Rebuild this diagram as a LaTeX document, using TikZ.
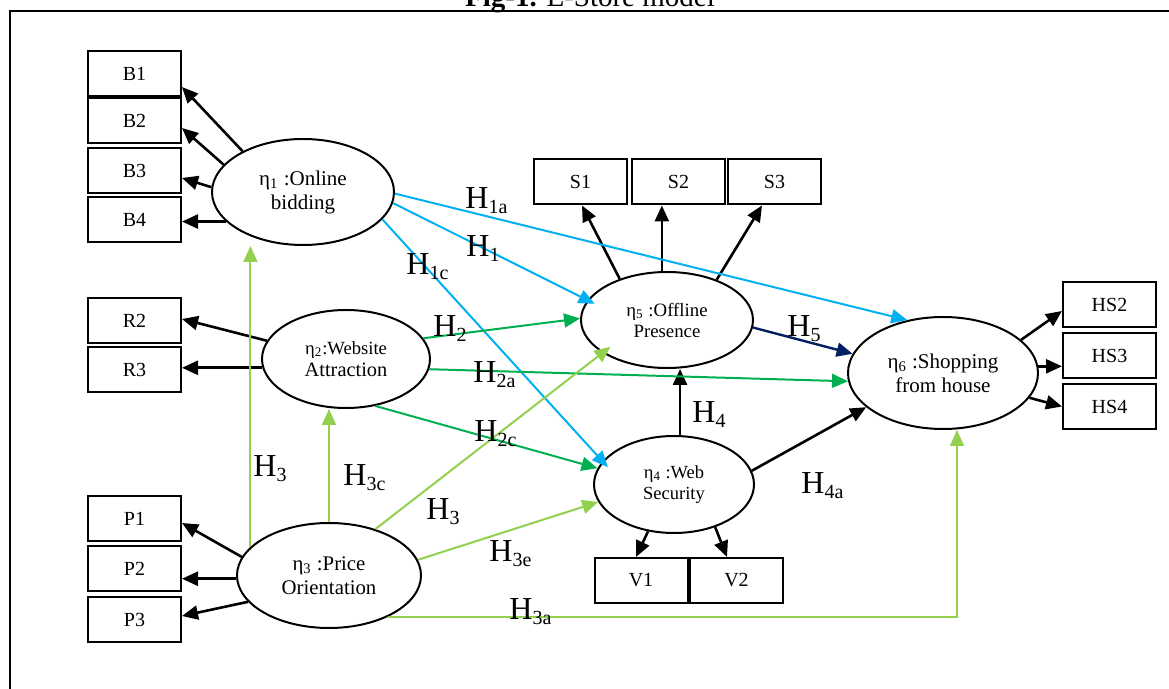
\documentclass[tikz,border=0pt]{standalone}
\usepackage{fontspec}
\setmainfont{Liberation Serif}
\usetikzlibrary{shapes.geometric,arrows.meta,calc}
\definecolor{cblue}{HTML}{00B0F0}
\definecolor{cgreen}{HTML}{00B050}
\definecolor{clgreen}{HTML}{92D050}
\definecolor{cnavy}{HTML}{002060}
\newcommand{\hyp}[1]{H\raisebox{-2.3pt}{\fontsize{10}{10}\selectfont #1}}
\newcommand{\etx}[1]{η\textsubscript{#1}}
\begin{document}
\begin{tikzpicture}[x=0.5pt,y=-0.5pt,
  box/.style={draw, line width=1pt, minimum width=46.5pt, minimum height=22.5pt, inner sep=0pt, font=\fontsize{10}{12}\selectfont},
  lat/.style={draw, ellipse, line width=1pt, inner sep=0pt, align=center},
  arr/.style={-{Triangle[length=8pt,width=7pt]}, line width=1.3pt, draw=black},
  blu/.style={arr, draw=cblue, line width=1pt},
  grn/.style={arr, draw=cgreen, line width=1pt},
  lgr/.style={arr, draw=clgreen, line width=1pt},
  nav/.style={arr, draw=cnavy, line width=1.2pt},
  hl/.style={inner sep=0pt, anchor=base west, font=\fontsize{16}{16}\selectfont}
]
\useasboundingbox (0,0) rectangle (1169,689);
% frame and title
\coordinate (fa) at (10,700);
\coordinate (fb) at (10,11);
\coordinate (fc) at (1180,11);
\draw[line width=1pt] (fa) -- (fb) -- (fc);
\node[anchor=base, inner sep=0pt, font=\fontsize{14.5}{16}\selectfont] (title) at (590,7) {\textbf{Fig-1.} E-Store model};

% indicator boxes
\node[box] (B1) at (134.5,74) {B1};
\node[box] (B2) at (134.5,120.5) {B2};
\node[box] (B3) at (134.5,170.5) {B3};
\node[box] (B4) at (134.5,219.5) {B4};
\node[box] (R2) at (134.5,321) {R2};
\node[box] (R3) at (134.5,369.5) {R3};
\node[box] (P1) at (134.5,518.5) {P1};
\node[box] (P2) at (134.5,569) {P2};
\node[box] (P3) at (134.5,620) {P3};
\node[box] (S1) at (580.5,182) {S1};
\node[box] (S2) at (678.5,182) {S2};
\node[box] (S3) at (774.5,182) {S3};
\node[box] (V1) at (641,580.5) {V1};
\node[box] (V2) at (736.5,580.5) {V2};
\node[box] (HS2) at (1109.5,304.5) {HS2};
\node[box] (HS3) at (1109.5,355.5) {HS3};
\node[box] (HS4) at (1109.5,406.5) {HS4};

% latent ellipses
\node[lat, minimum width=91pt, minimum height=53pt, font=\fontsize{10.5}{12}\selectfont] (e1) at (303,192) {\etx{1} :Online\\bidding};
\node[lat, minimum width=84pt, minimum height=49pt, font=\fontsize{10.2}{11}\selectfont] (e2) at (346,359) {{\fontsize{9.3}{10}\selectfont \etx{2}:Website}\\Attraction};
\node[lat, minimum width=92pt, minimum height=52.5pt, font=\fontsize{10.4}{12}\selectfont] (e3) at (329,575.5) {\etx{3} :Price\\Orientation};
\node[lat, minimum width=80pt, minimum height=48.5pt, font=\fontsize{9.25}{10.5}\selectfont] (e4) at (674,484.5) {\etx{4} :Web\\Security};
\node[lat, minimum width=86pt, minimum height=48pt, font=\fontsize{9.4}{10.5}\selectfont] (e5) at (667,320) {\etx{5} :Offline\\Presence};
\node[lat, minimum width=95pt, minimum height=56pt, font=\fontsize{10.5}{12}\selectfont] (e6) at (943,373) {\etx{6} :Shopping\\from house};

% measurement arrows
\draw[arr] (e1.146) -- ([yshift=-6.5pt]B1.east);
\draw[arr] (e1.161) -- ([yshift=-3.75pt]B2.east);
\draw[arr] (e1.177) -- ([yshift=-3.75pt]B3.east);
\draw[arr] (e1.201) -- (e1.201 -| B4.east);
\draw[arr] (e2.167) -- ([yshift=1pt]R2.east);
\draw[arr] (e2.186) -- (e2.186 -| R3.east);
\draw[arr] (e3.168) -- ([yshift=-2.25pt]P1.east);
\draw[arr] (e3.182) -- (e3.182 -| P2.east);
\draw[arr] (e3.198) -- ([yshift=2pt]P3.east);
\draw[arr] (e5.139) -- ([xshift=0.75pt]S1.south);
\draw[arr] (e5.96) -- (e5.96 |- S2.south);
\draw[arr] (e5.39) -- ([xshift=-6.25pt]S3.south);
\draw[arr] (e4.241) -- ([xshift=-2.5pt]V1.north);
\draw[arr] (e4.314) -- ([xshift=-4.75pt]V2.north);
\draw[arr] (e6.23) -- ([yshift=-3.25pt]HS2.west);
\draw[arr] (e6.4) -- (e6.4 -| HS3.west);
\draw[arr] (e6.344) -- (HS4.west);

% structural paths
\draw[arr] (e4.83) -- (e4.83 |- e5.south);
\draw[arr] (e4.10) -- (e6.204);
\draw[nav] (e5.355) -- (e6.168);
\draw[blu] (e1.359) -- (e6.124);
\draw[blu, shorten >=-4pt] (e1.353) -- (e5.166);
\draw[blu, shorten >=-4pt] (e1.341) -- (e4.162);
\draw[grn] (e2.15) -- (e5.179);
\draw[grn] (e2.353) -- (e6.185);
\draw[grn] (e2.302) -- (e4.168);
\draw[lgr] (e3.160) -- (e3.160 |- e1.south);
\draw[lgr] (e3.north) -- (e3.north |- e2.south);
\draw[lgr, shorten >=-5pt] (e3.45) -- (e5.207);
\draw[lgr] (e3.10) -- (e4.193);
\draw[lgr] (e3.325) -| ([xshift=7pt]e6.south);

% hypothesis labels
\node[hl] (h1a) at (465,209) {\hyp{1a}};
\node[hl] (h1) at (466,257) {\hyp{1}};
\node[hl] (h1c) at (406,275) {\hyp{1c}};
\node[hl] (h2) at (433,337) {\hyp{2}};
\node[hl] (h2a) at (473,383) {\hyp{2a}};
\node[hl] (h2c) at (474,442) {\hyp{2c}};
\node[hl] (h5) at (787,337) {\hyp{5}};
\node[hl] (h4) at (692,423) {\hyp{4}};
\node[hl] (h4a) at (801,494) {\hyp{4a}};
\node[hl] (h3l) at (253,477) {\hyp{3}};
\node[hl] (h3c) at (343,486) {\hyp{3c}};
\node[hl] (h3m) at (426,520) {\hyp{3}};
\node[hl] (h3e) at (489,562) {\hyp{3e}};
\node[hl] (h3a) at (509,620) {\hyp{3a}};
\end{tikzpicture}
\end{document}
